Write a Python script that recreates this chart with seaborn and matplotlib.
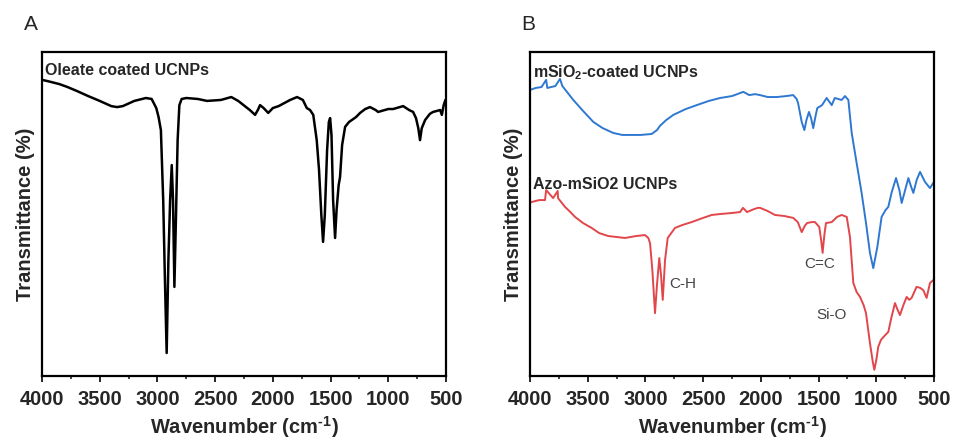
import matplotlib

matplotlib.use("Agg")

import matplotlib.pyplot as plt
import numpy as np
import pandas as pd
import seaborn as sns
from matplotlib.ticker import MultipleLocator

# Panel A: oleate coated UCNPs (arbitrary transmittance scale)
oleate_wn = [4000, 3950, 3850, 3780, 3700, 3600, 3500, 3400, 3350, 3300, 3200, 3100, 3050,
             3010, 2990, 2970, 2950, 2935, 2920, 2905, 2890, 2876, 2865, 2853, 2840, 2825,
             2810, 2790, 2750, 2650, 2570, 2450, 2360, 2300, 2200, 2154, 2130, 2111, 2080,
             2040, 2000, 1950, 1850, 1790, 1740, 1706, 1678, 1650, 1620, 1600, 1580, 1565,
             1550, 1530, 1515, 1504, 1492, 1478, 1461, 1448, 1430, 1418, 1400, 1374, 1340,
             1316, 1280, 1244, 1200, 1158, 1110, 1088, 1000, 958, 900, 871, 820, 785, 760,
             740, 725, 710, 681, 640, 612, 580, 551, 536, 520, 505]
oleate_t = [91.4, 91.0, 90.1, 89.2, 88.0, 86.4, 84.9, 83.3, 83.0, 83.3, 84.9, 85.8, 85.5,
            82.7, 79.9, 75.9, 54.3, 29.6, 7.1, 35.8, 54.3, 65.1, 54.3, 27.5, 48.1, 72.8,
            83.6, 85.5, 85.8, 85.5, 84.9, 85.2, 86.1, 84.9, 82.1, 80.6, 82.1, 83.6, 82.7,
            81.2, 82.7, 83.3, 85.2, 86.1, 85.2, 82.7, 82.1, 80.6, 72.8, 63.6, 49.7, 41.4,
            49.7, 69.8, 78.4, 79.6, 74.4, 54.3, 42.6, 51.2, 58.9, 61.4, 71.3, 76.9, 78.4,
            79.0, 79.9, 81.2, 82.4, 83.0, 82.1, 81.5, 82.4, 82.4, 83.0, 83.3, 82.1, 81.5, 79.6,
            76.5, 72.8, 76.5, 79.0, 80.9, 81.5, 81.8, 82.1, 80.6, 83.6, 85.2]

# Panel B: mSiO2-coated UCNPs
msio2_wn = [4000, 3950, 3900, 3860, 3850, 3780, 3740, 3720, 3680, 3625, 3540, 3451, 3370,
            3278, 3200, 3134, 3040, 2946, 2900, 2874, 2820, 2758, 2650, 2556, 2450, 2354,
            2250, 2152, 2100, 2050, 2007, 1940, 1863, 1780, 1720, 1690, 1678, 1646, 1623,
            1605, 1583, 1565, 1546, 1530, 1511, 1470, 1430, 1386, 1360, 1300, 1271, 1242,
            1213, 1170, 1127, 1089, 1055, 1026, 991, 954, 920, 896, 868, 829, 800, 780, 750,
            722, 700, 679, 650, 621, 578, 535, 506]
msio2_t = [88.3, 88.9, 89.2, 91.4, 88.9, 89.5, 91.7, 89.5, 87.7, 85.2, 81.8, 78.4, 76.5,
           75.0, 74.4, 74.4, 74.4, 74.7, 75.9, 77.2, 79.0, 80.6, 82.4, 83.6, 84.9, 85.8,
           86.4, 87.7, 86.7, 87.0, 86.7, 86.1, 86.1, 86.4, 86.7, 85.5, 84.3, 78.4, 75.9,
           79.0, 81.5, 79.6, 76.5, 79.6, 82.7, 83.6, 85.8, 83.6, 85.8, 85.2, 86.4, 85.2,
           75.0, 65.7, 56.5, 47.2, 38.0, 33.3, 39.8, 49.1, 51.2, 52.2, 56.5, 61.1, 57.4,
           53.4, 57.4, 61.1, 58.6, 56.5, 60.5, 63.0, 59.9, 58.0, 59.6]

# Panel B: Azo-mSiO2 UCNPs
azo_wn = [4000, 3986, 3920, 3870, 3860, 3800, 3760, 3757, 3697, 3650, 3610, 3540, 3466, 3400,
          3322, 3250, 3177, 3080, 3004, 2975, 2960, 2940, 2917, 2900, 2880, 2865, 2850, 2830,
          2807, 2744, 2680, 2600, 2500, 2426, 2350, 2253, 2180, 2155, 2120, 2060, 2025, 2007,
          1940, 1878, 1800, 1720, 1680, 1646, 1620, 1600, 1560, 1531, 1494, 1478, 1465, 1450,
          1436, 1386, 1340, 1300, 1256, 1228, 1199, 1170, 1141, 1110, 1089, 1055, 1030, 1017,
          1000, 983, 960, 939, 896, 870, 838, 815, 795, 765, 737, 715, 694, 651, 620, 593,
          564, 535, 506]
azo_t = [53.4, 53.7, 54.3, 54.3, 57.4, 54.9, 57.1, 54.9, 52.2, 50.6, 49.1, 47.2, 45.7, 44.1,
         43.2, 42.9, 42.6, 43.2, 43.5, 42.6, 41.0, 32.7, 19.4, 28.1, 36.4, 31.2, 23.5, 35.8,
         42.6, 45.7, 46.6, 47.5, 48.8, 49.7, 50.0, 50.3, 50.6, 51.9, 50.6, 51.5, 51.9, 51.9,
         50.9, 49.7, 49.4, 48.8, 47.5, 44.4, 46.3, 47.2, 47.5, 47.5, 46.0, 42.0, 38.0, 43.5,
         47.2, 47.5, 49.1, 49.7, 49.1, 42.9, 28.7, 25.9, 24.4, 21.9, 19.4, 10.2, 4.3, 1.9,
         4.9, 9.0, 11.1, 12.0, 13.6, 17.9, 22.5, 20.4, 18.8, 21.9, 24.4, 23.5, 24.1, 27.5,
         27.2, 26.5, 24.1, 28.7, 29.6]

xticks = [4000, 3500, 3000, 2500, 2000, 1500, 1000, 500]

sns.set_style("ticks")
plt.rcParams["font.family"] = ["Liberation Sans", "DejaVu Sans"]
plt.rcParams["mathtext.fontset"] = "custom"
plt.rcParams["mathtext.rm"] = "Liberation Sans:bold"
plt.rcParams["mathtext.bf"] = "Liberation Sans:bold"
plt.rcParams["mathtext.default"] = "bf"

fig = plt.figure(figsize=(9.56, 4.43), dpi=100)
ax_a = fig.add_axes([42 / 956, 1 - 376 / 443, 404 / 956, 324 / 443])
ax_b = fig.add_axes([530 / 956, 1 - 376 / 443, 404 / 956, 324 / 443])

df_a = pd.DataFrame({"wn": oleate_wn, "t": oleate_t})
sns.lineplot(data=df_a, x="wn", y="t", sort=False, estimator=None, color="black", lw=1.8, ax=ax_a)

df_blue = pd.DataFrame({"wn": msio2_wn, "t": msio2_t})
df_red = pd.DataFrame({"wn": azo_wn, "t": azo_t})
sns.lineplot(data=df_blue, x="wn", y="t", sort=False, estimator=None, color="#2f78d2", lw=1.4, ax=ax_b)
sns.lineplot(data=df_red, x="wn", y="t", sort=False, estimator=None, color="#e2464a", lw=1.4, ax=ax_b)

for ax in (ax_a, ax_b):
    ax.set_xlim(4000, 500)
    ax.set_ylim(0, 100)
    ax.set_xticks(xticks)
    ax.xaxis.set_minor_locator(MultipleLocator(250))
    ax.set_xticklabels([str(t) for t in xticks], fontsize=14.5, fontweight="bold")
    ax.set_yticks([])
    ax.tick_params(axis="x", which="major", direction="out", length=4, width=1.4, pad=6)
    ax.tick_params(axis="x", which="minor", direction="out", length=2.5, width=1.2)
    ax.tick_params(top=False, right=False, left=False)
    for sp in ax.spines.values():
        sp.set_linewidth(1.6)
        sp.set_color("black")
    ax.set_xlabel(r"Wavenumber (cm$^{\text{-1}}$)", fontsize=14.5, fontweight="bold", labelpad=4)
    ax.set_ylabel("Transmittance (%)", fontsize=14.5, fontweight="bold", labelpad=5)

ax_a.text(0.008, 0.942, "Oleate coated UCNPs", transform=ax_a.transAxes, fontsize=11.5,
          fontweight="bold", va="center", ha="left")
ax_b.text(0.008, 0.935, r"mSiO$_2$-coated UCNPs", transform=ax_b.transAxes, fontsize=11.5,
          fontweight="bold", va="center", ha="left")
ax_b.text(0.008, 0.592, "Azo-mSiO2 UCNPs", transform=ax_b.transAxes, fontsize=11.5,
          fontweight="bold", va="center", ha="left")

ax_b.text(2790, 28.4, "C-H", fontsize=11, color="#444444", va="center", ha="left")
ax_b.text(1620, 34.6, "C=C", fontsize=11, color="#444444", va="center", ha="left")
ax_b.text(1515, 18.9, "Si-O", fontsize=11, color="#444444", va="center", ha="left")

fig.text(31 / 956, 1 - 24 / 443, "A", fontsize=15, ha="center", va="center")
fig.text(528 / 956, 1 - 24 / 443, "B", fontsize=15, ha="center", va="center")

fig.savefig("out.png", dpi=100)
plt.close(fig)
